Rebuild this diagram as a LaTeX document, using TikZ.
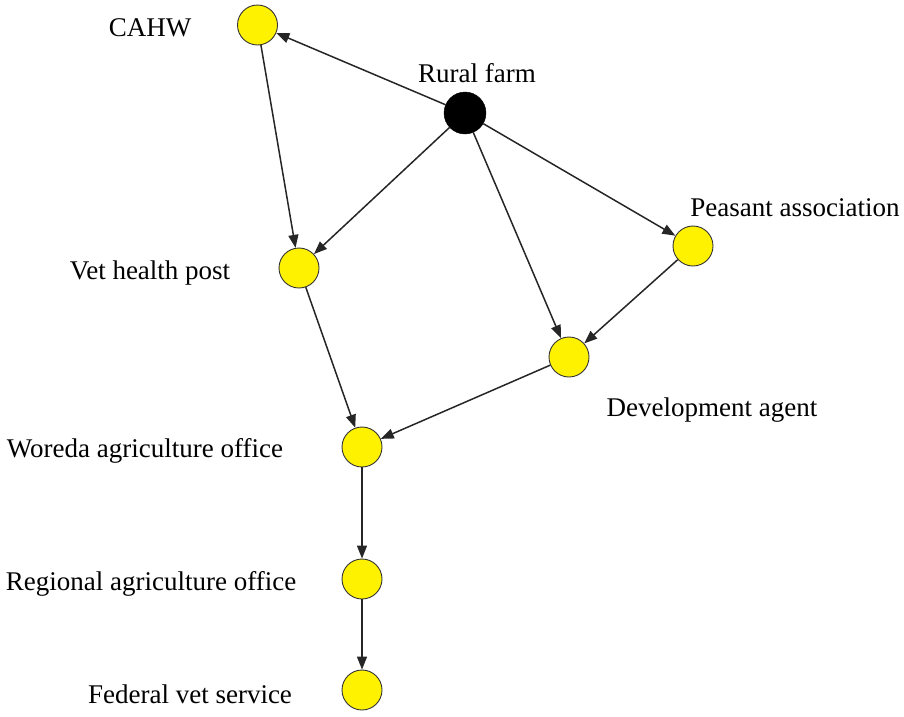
\documentclass[tikz,border=0pt]{standalone}
\usepackage{fontspec}
\setmainfont{Liberation Serif}
\usetikzlibrary{arrows.meta}
\begin{document}
\begin{tikzpicture}[x=1pt,y=-1pt,
  ynode/.style={circle,draw=black!80,line width=0.9pt,fill=yellow,minimum size=40pt,inner sep=0pt},
  bnode/.style={circle,draw=black,fill=black,minimum size=42pt,inner sep=0pt},
  lbl/.style={font=\fontsize{27}{30}\selectfont,inner sep=0pt,anchor=center},
  edge/.style={line width=1.5pt,draw=black!85,-{Triangle[length=13pt,width=10pt]}}]
\useasboundingbox (0,0) rectangle (904,716);
\node[ynode] (cahw) at (257.5,25) {};
\node[bnode] (rural) at (465,113) {};
\node[ynode] (vet) at (299,268) {};
\node[ynode] (pea) at (693,246) {};
\node[ynode] (dev) at (569,357) {};
\node[ynode] (wor) at (362,447) {};
\node[ynode] (reg) at (362,579) {};
\node[ynode] (fed) at (362,690) {};
\node[lbl] (lcahw) at (150,28) {CAHW};
\node[lbl] (lrural) at (477,73) {Rural farm};
\node[lbl] (lpea) at (795,208) {Peasant association};
\node[lbl] (lvet) at (150,273) {Vet health post};
\node[lbl] (ldev) at (712,410) {Development agent};
\node[lbl] (lwor) at (145,451) {Woreda agriculture office};
\node[lbl] (lreg) at (151,584) {Regional agriculture office};
\node[lbl] (lfed) at (190,694) {Federal vet service};
\draw[edge] (rural) -- (cahw);
\draw[edge] (cahw) -- (vet);
\draw[edge] (rural) -- (vet);
\draw[edge] (rural) -- (dev);
\draw[edge] (rural) -- (pea);
\draw[edge] (pea) -- (dev);
\draw[edge] (vet) -- (wor);
\draw[edge] (dev) -- (wor);
\draw[edge] (wor) -- (reg);
\draw[edge] (reg) -- (fed);
\end{tikzpicture}
\end{document}
